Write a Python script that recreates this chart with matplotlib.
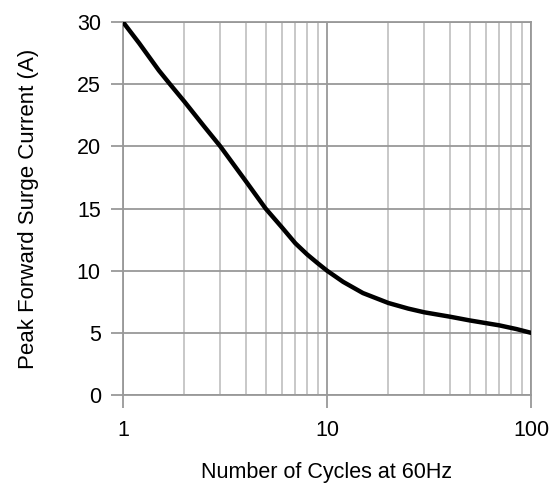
import numpy as np
from matplotlib import pyplot as plt
from matplotlib.ticker import FixedLocator, NullFormatter

plt.rcParams['font.family'] = ['Liberation Sans', 'DejaVu Sans']

cycles = [1, 1.2, 1.5, 1.7, 2, 2.5, 3, 4, 5, 6, 7, 8, 9, 10, 12, 15, 20, 25,
          30, 40, 50, 70, 85, 100]
current = [30, 28.3, 26.1, 25, 23.6, 21.6, 20, 17.2, 15, 13.5, 12.2, 11.3,
           10.6, 10, 9.1, 8.2, 7.4, 6.95, 6.65, 6.3, 6.0, 5.6, 5.3, 5.0]

yticks = [0, 5, 10, 15, 20, 25, 30]
xticks = [1, 10, 100]
xtick_labels = ["1", "10", "100"]

fig = plt.figure(figsize=(5.51, 4.84), dpi=100)
ax = fig.add_axes([0.2232, 0.1839, 0.7405, 0.7706])

ax.plot(cycles, current, color="black", lw=3.2, solid_capstyle="round",
        solid_joinstyle="round", zorder=5)

ax.set_xscale("log")
ax.set_xlim(1, 100)
ax.set_ylim(0, 30)
ax.set_xticks(xticks)
ax.set_xticklabels(xtick_labels)
minor = [m * d for d in (1, 10) for m in range(2, 10)]
ax.xaxis.set_minor_locator(FixedLocator(minor))
ax.xaxis.set_minor_formatter(NullFormatter())
ax.set_yticks(yticks)

ax.grid(True, which="major", color="#999999", lw=1.3)
ax.grid(True, which="minor", axis="x", color="#c4c4c4", lw=1.3)
for s in ax.spines.values():
    s.set_color("#999999")
    s.set_linewidth(1.3)

ax.tick_params(which="major", length=9, width=1.3, color="#999999",
               labelsize=15.5, pad=9)
ax.tick_params(which="minor", length=0)
ax.tick_params(axis="y", pad=7)

ax.set_xlabel("Number of Cycles at 60Hz", fontsize=15.5, labelpad=15)
ax.set_ylabel("Peak Forward Surge Current (A)", fontsize=16, labelpad=27)

fig.savefig("out.png", dpi=100)
